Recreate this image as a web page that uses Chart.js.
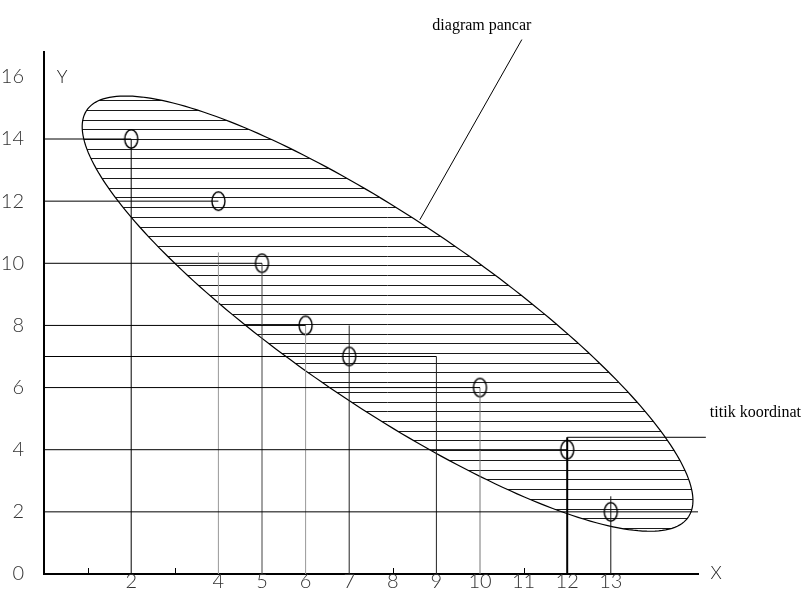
<!DOCTYPE html>
<html><head><meta charset="utf-8">
<script src="https://cdn.jsdelivr.net/npm/chart.js@4.4.1/dist/chart.umd.min.js"></script>
<style>html,body{margin:0;padding:0;background:#fff}canvas{display:block}</style>
</head><body>
<canvas id="c" width="806" height="589"></canvas>
<script>
// ---- data ----
const pointX = [2, 4, 5, 6, 7, 10, 12, 13];
const pointY = [14, 12, 10, 8, 7, 6, 4, 2];
const yTickValues = [0, 2, 4, 6, 8, 10, 12, 14, 16];
const xTickValues = [1, 2, 3, 4, 5, 6, 7, 8, 9, 10, 11, 12, 13];
const xTickLabels = ['', '2', '', '4', '5', '6', '7', '8', '9', '10', '11', '12', '13'];
const minorTickX = [1, 3, 8, 11];
const hGuideY = [14, 12, 10, 8, 7, 6, 4, 2];
const hGuideXEnd = [2, 4, 5, 6, 9, 10, 12, 15];
const vGuideX = [2, 4, 5, 6, 7, 9, 10, 12, 13];
const vGuideYTop = [14, 10.35, 10, 8, 8, 7, 6, 4.4, 2.5];
const ellipseCenter = [7.88, 8.38];
const ellipseSemiAxes = [9.55, 2.63];
const hatchStep = 0.313;
const leaderDiagram = [[8.62, 11.4], [10.96, 17.2]];
const leaderTitik = [[12, 4.4], [15.18, 4.4]];
const textDiagram = 'diagram pancar';
const textTitik = 'titik koordinat';

// ---- styles ----
const vGuideColors = ['#000', '#999', '#444', '#999', '#222', '#222', '#777', '#000', '#111'];
const vGuideWidths = [1, 1, 1, 1, 1, 1, 1, 2, 1];
const tickFont = {family: "Lato, 'Liberation Sans', sans-serif", size: 20, weight: '300'};

// point marker: upright ellipse
const marker = document.createElement('canvas');
marker.width = 17; marker.height = 22;
(() => {
  const m = marker.getContext('2d');
  m.strokeStyle = '#000'; m.lineWidth = 1.4;
  m.beginPath(); m.ellipse(8.5, 11, 6.5, 9.2, 0, 0, Math.PI * 2); m.stroke();
})();

const datasets = [];
hGuideY.forEach((y, i) => {
  datasets.push({type: 'line', data: [{x: 0, y}, {x: hGuideXEnd[i], y}],
    borderColor: '#000', borderWidth: 1, pointRadius: 0, clip: false});
});
vGuideX.forEach((x, i) => {
  datasets.push({type: 'line', data: [{x, y: 0}, {x, y: vGuideYTop[i]}],
    borderColor: vGuideColors[i], borderWidth: vGuideWidths[i], pointRadius: 0, clip: false});
});
[leaderDiagram, leaderTitik].forEach(l => {
  datasets.push({type: 'line', data: l.map(p => ({x: p[0], y: p[1]})),
    borderColor: '#000', borderWidth: 1, pointRadius: 0, clip: false});
});
datasets.push({type: 'scatter', data: pointX.map((x, i) => ({x, y: pointY[i]})),
  pointStyle: marker, pointRadius: 9, borderColor: '#000', clip: false});

function ellipsePath(ctx, xs, ys) {
  const u = [Math.SQRT1_2, -Math.SQRT1_2], v = [Math.SQRT1_2, Math.SQRT1_2];
  const [a, b] = ellipseSemiAxes;
  ctx.beginPath();
  for (let k = 0; k <= 240; k++) {
    const t = k / 240 * Math.PI * 2;
    const dx = ellipseCenter[0] + a * Math.cos(t) * u[0] + b * Math.sin(t) * v[0];
    const dy = ellipseCenter[1] + a * Math.cos(t) * u[1] + b * Math.sin(t) * v[1];
    const px = xs.getPixelForValue(dx), py = ys.getPixelForValue(dy);
    if (k === 0) ctx.moveTo(px, py); else ctx.lineTo(px, py);
  }
  ctx.closePath();
}

const drawPlugin = {
  id: 'drawExtras',
  beforeDatasetsDraw(chart) {
    const ctx = chart.ctx, xs = chart.scales.x, ys = chart.scales.y;
    ctx.save();
    ellipsePath(ctx, xs, ys);
    ctx.clip();
    ctx.strokeStyle = '#1a1a1a'; ctx.lineWidth = 1;
    for (let k = -40; k <= 40; k++) {
      const yv = 14 + k * hatchStep;
      const py = Math.round(ys.getPixelForValue(yv)) + 0.5;
      ctx.beginPath(); ctx.moveTo(0, py); ctx.lineTo(chart.width, py); ctx.stroke();
    }
    ctx.restore();
    ctx.save();
    ellipsePath(ctx, xs, ys);
    ctx.strokeStyle = '#000'; ctx.lineWidth = 1.2; ctx.stroke();
    ctx.restore();
  },
  afterDatasetsDraw(chart) {
    const ctx = chart.ctx, xs = chart.scales.x, ys = chart.scales.y;
    ctx.save();
    ctx.strokeStyle = '#000'; ctx.lineWidth = 1;
    const base = ys.getPixelForValue(0);
    minorTickX.forEach(x => {
      const px = Math.round(xs.getPixelForValue(x)) + 0.5;
      ctx.beginPath(); ctx.moveTo(px, base); ctx.lineTo(px, base - 6); ctx.stroke();
    });
    ctx.fillStyle = '#222';
    ctx.font = "300 18px Lato, 'Liberation Sans', sans-serif";
    ctx.textAlign = 'center'; ctx.textBaseline = 'middle';
    ctx.fillText('Y', xs.left + 18, ys.getPixelForValue(16));
    ctx.fillText('X', xs.right + 18, base - 1);
    ctx.fillStyle = '#000';
    ctx.font = "16px 'Liberation Serif','Times New Roman',serif";
    ctx.textAlign = 'center'; ctx.textBaseline = 'alphabetic';
    ctx.fillText(textDiagram, xs.getPixelForValue(leaderDiagram[1][0]) - 40, ys.getPixelForValue(leaderDiagram[1][1]) - 10);
    ctx.textAlign = 'left';
    ctx.fillText(textTitik, xs.getPixelForValue(leaderTitik[1][0]) + 4, ys.getPixelForValue(leaderTitik[1][1]) - 20);
    ctx.restore();
  }
};

new Chart(document.getElementById('c'), {
  data: {datasets},
  plugins: [drawPlugin],
  options: {
    responsive: false, animation: false, devicePixelRatio: 1,
    layout: {padding: {top: 52, right: 108, left: 0, bottom: 0}},
    plugins: {legend: {display: false}, tooltip: {enabled: false}},
    scales: {
      x: {
        type: 'linear', min: 0, max: 15,
        afterBuildTicks: s => { s.ticks = xTickValues.map(v => ({value: v})); },
        afterFit: s => { s.height = 15; s.paddingLeft = 0; s.paddingRight = 0; },
        ticks: {autoSkip: false, maxRotation: 0, padding: -12, color: '#333', font: tickFont,
          callback: v => xTickLabels[xTickValues.indexOf(v)]},
        grid: {display: false},
        border: {display: true, color: '#000', width: 2}
      },
      y: {
        type: 'linear', min: 0, max: 16.8,
        afterBuildTicks: s => { s.ticks = yTickValues.map(v => ({value: v})); },
        afterFit: s => { s.width = 44; s.paddingTop = 0; s.paddingBottom = 0; },
        ticks: {autoSkip: false, padding: 12, color: '#333', font: tickFont},
        grid: {display: false},
        border: {display: true, color: '#000', width: 2}
      }
    }
  }
});
</script>
</body></html>
